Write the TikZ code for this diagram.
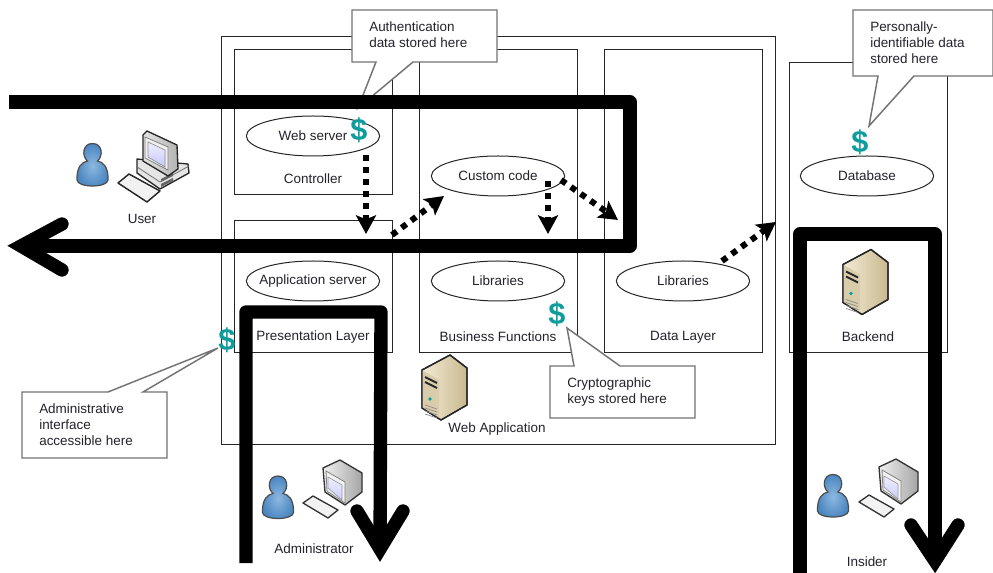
\documentclass[tikz,border=0pt]{standalone}
\usepackage{fontspec}
\setmainfont{Liberation Sans}
\usetikzlibrary{arrows.meta,calc,shapes.geometric}
\definecolor{txt}{HTML}{24222E}
\definecolor{teal2}{HTML}{0E9C9C}
\definecolor{pin}{HTML}{8DB8E0}
\definecolor{pout}{HTML}{4A86C0}
\definecolor{srvA}{HTML}{F3EBD6}
\definecolor{srvB}{HTML}{C9B98F}
\definecolor{srvC}{HTML}{D8CCAA}
\tikzset{
 x=0.75pt,y=-0.75pt,
 box/.style={draw=black!85,line width=0.75pt,fill=white},
 oval/.style={draw=black!85,line width=0.75pt,fill=white,ellipse,inner xsep=-14pt,inner ysep=0pt,minimum width=100pt,minimum height=30pt,font=\fontsize{10.1pt}{12pt}\selectfont,text=txt},
 lbl/.style={font=\fontsize{10.1pt}{12pt}\selectfont,text=txt,inner sep=0pt,yshift=-0.8pt},
 note/.style={font=\fontsize{10.1pt}{12pt}\selectfont,text=txt,align=left,inner sep=0pt,anchor=north west},
 callout/.style={draw=black!55,line width=1.1pt,fill=white,line join=miter},
 dollar/.style={font=\fontsize{23pt}{24pt}\selectfont\bfseries,text=teal2,inner sep=0pt},
 bigline/.style={line width=10pt,draw=black,line join=round},
 bighead/.style={line width=10pt,draw=black,line cap=round,line join=miter},
 dots/.style={line width=4.5pt,draw=black,dash pattern=on 4.5pt off 4.5pt,-{Stealth[length=14pt,width=15pt,inset=3pt]}},
}
\tikzset{
 pics/person/.style={code={
  \shade[inner color=pin,outer color=pout,draw=black!70,line width=0.9pt]
   (-15.5,14) .. controls (-16,0) and (-10,-4) .. (-5,-5)
   .. controls (-11,-10) and (-10,-22.5) .. (0,-22.5)
   .. controls (10,-22.5) and (11,-10) .. (5,-5)
   .. controls (10,-4) and (16,0) .. (15.5,14)
   .. controls (15,22) and (-15,22) .. (-15.5,14) -- cycle;
 }},
 pics/bigpc/.style={code={
  % base
  \draw[fill=black!10,draw=black!85,line width=1pt,line join=round] (-4,-13) -- (36,-9) -- (47,-8) -- (48,1) -- (19,17) -- (-4,1) -- cycle;
  \draw[draw=black!55,line width=.6pt] (-4,-5) -- (19,10) -- (48,-6);
  \fill[black!60] (20,7) -- (32,1) -- (32,4) -- (20,10) -- cycle;
  \fill[black!60] (20,12) -- (32,6) -- (32,9) -- (20,15) -- cycle;
  % monitor
  \shade[left color=black!10,right color=black!30,draw=black!85,line width=1pt,line join=round] (2,-37) -- (6,-41) -- (36,-27) -- (37,-3) -- (27,4) -- (2,-11) -- cycle;
  \draw[fill=black!6,draw=black!50,line width=.6pt] (4,-35) -- (27,-25) -- (27,-2) -- (4,-14) -- cycle;
  \shade[top color=blue!6,bottom color=blue!22,draw=black!45,line width=.5pt] (7,-30) -- (24,-22) -- (24,-5) -- (7,-15) -- cycle;
  % keyboard
  \draw[fill=black!5,draw=black!85,line width=1.1pt,line join=round] (-23,11) -- (-12,2) -- (19,19) -- (6,30) -- cycle;
 }},
 pics/smallpc/.style={code={
  \shade[left color=black!6,right color=black!35,draw=black!80,line width=1pt,line join=round] (-18,-16) -- (-1,-24) -- (21,-11) -- (21,8) -- (4,21) -- (-16,8) -- cycle;
  \draw[fill=black!5,draw=black!50,line width=.6pt] (-15,-13) -- (4,-2) -- (4,19) -- (-14,7) -- cycle;
  \shade[top color=blue!6,bottom color=blue!20,draw=black!40,line width=.5pt] (-13,-7) -- (1,1) -- (1,16) -- (-13,4) -- cycle;
  \draw[fill=black!5,draw=black!80,line width=1pt,line join=round] (-38,19) -- (-28,12) -- (-3,26) -- (-13,34) -- cycle;
 }},
 pics/server/.style={code={
  \shade[left color=srvA,right color=srvB,draw=black!85,line width=1pt,line join=round] (-23,-18) -- (5,-33) -- (22,-20) -- (22,17) -- (-4,32) -- (-23,20) -- cycle;
  \fill[srvC] (-23,-18) -- (-6,-8) -- (-6,30) -- (-23,20) -- cycle;
  \draw[black!85,line width=1pt,line join=round] (-23,-18) -- (5,-33) -- (22,-20) -- (22,17) -- (-4,32) -- (-23,20) -- cycle;
  \draw[draw=black!85,line width=1.4pt] (-20,-11) -- (-8,-5);
  \draw[draw=black!85,line width=1.4pt] (-20,-6) -- (-8,0);
  \fill[teal2] (-15,11) circle (1.8);
  \foreach \v in {17,20,23,26}{\draw[draw=black!45,line width=.5pt] (-20,\v) -- (-8,\v+4);}
 }},
}
\begin{document}
\begin{tikzpicture}
\useasboundingbox (0,0) rectangle (993,573);
\fill[white] (0,0) rectangle (993,573);
% containers
\draw[box] (221,37) rectangle (775,445);
\draw[box] (234,50) rectangle (392,195);
\draw[box] (234,221) rectangle (392,353);
\draw[box] (419,50) rectangle (577,353);
\draw[box] (604,50) rectangle (762,353);
\draw[box] (789,63) rectangle (947,353);
% ovals
\node[oval] (web) at (313,136) {Web server};
\node[oval] (app) at (313,281) {Application server};
\node[oval] (cust) at (498,176) {Custom code};
\node[oval] (lib1) at (498,281) {Libraries};
\node[oval] (lib2) at (683,281) {Libraries};
\node[oval] (db) at (867,176) {Database};
% labels
\node[lbl] (lctl) at (313,178) {Controller};
\node[lbl] (lpres) at (313,336) {Presentation Layer};
\node[lbl] (lbus) at (498,336) {Business Functions};
\node[lbl] (ldata) at (683,336) {Data Layer};
\node[lbl] (lback) at (868,336) {Backend};
\node[lbl] (lweb) at (497,428) {Web Application};
\node[lbl] (luser) at (142,218) {User};
\node[lbl] (ladm) at (314,548) {Administrator};
\node[lbl] (lins) at (867,561) {Insider};
% icons
\pic at (92.5,166) {person};
\pic at (141,172) {bigpc};
\pic at (278,498.5) {person};
\pic at (341,484) {smallpc};
\pic at (833,497) {person};
\pic at (897,483) {smallpc};
\pic at (866,282.5) {server};
\pic at (445,388) {server};
% dotted arrows
\coordinate (d1a) at (366,155); \coordinate (d1b) at (366,234);
\coordinate (d2a) at (392,235); \coordinate (d2b) at (444,196);
\coordinate (d3a) at (548,181); \coordinate (d3b) at (548,234);
\coordinate (d4a) at (561,180); \coordinate (d4b) at (618,220);
\coordinate (d5a) at (722,261); \coordinate (d5b) at (776,222);
\draw[dots] (d1a) -- (d1b);
\draw[dots] (d2a) -- (d2b);
\draw[dots] (d3a) -- (d3b);
\draw[dots] (d4a) -- (d4b);
\draw[dots] (d5a) -- (d5b);
% dollars
\node[dollar] (s1) at (359,130) {\$};
\node[dollar] (s2) at (860,142) {\$};
\node[dollar] (s3) at (557,314) {\$};
\node[dollar] (s4) at (227,340) {\$};
% callouts
\draw[callout] (352,10) -- (497,10) -- (497,62) -- (413,62) -- (358,108) -- (376,62) -- (352,62) -- cycle;
\node[note] (n1) at (369,21) {Authentication\\data stored here};
\draw[callout] (853,10) -- (993,10) -- (993,76) -- (914,76) -- (869,126) -- (878,76) -- (853,76) -- cycle;
\node[note] (n2) at (870,21) {Personally-\\identifiable data\\stored here};
\draw[callout] (550,366) -- (574,366) -- (567,328) -- (620,366) -- (695,366) -- (695,418) -- (550,418) -- cycle;
\node[note] (n3) at (567,377) {Cryptographic\\keys stored here};
\draw[callout] (22,392) -- (108,392) -- (218,348) -- (143,392) -- (167,392) -- (167,458) -- (22,458) -- cycle;
\node[note] (n4) at (39,403) {Administrative\\interface\\accessible here};
% big routes
\coordinate (r1) at (9,102); \coordinate (r2) at (630,102); \coordinate (r3) at (630,246); \coordinate (r4) at (21,246);
\draw[bigline] (r1) -- (r2) -- (r3) -- (r4);
\draw[bighead] (62,224) -- (r4) -- (62,270);
\coordinate (a1) at (246,563); \coordinate (a2) at (246,312); \coordinate (a3) at (381,312); \coordinate (a4) at (380,549);
\draw[bigline] (a1) -- (a2) -- (a3) -- (a4);
\draw[bighead] (357,511) -- (a4) -- (403,511);
\coordinate (i1) at (800,573); \coordinate (i2) at (800,234); \coordinate (i3) at (935,234); \coordinate (i4) at (935,561);
\draw[bigline] (i1) -- (i2) -- (i3) -- (i4);
\draw[bighead] (911,525) -- (i4) -- (958,525);
\end{tikzpicture}
\end{document}
